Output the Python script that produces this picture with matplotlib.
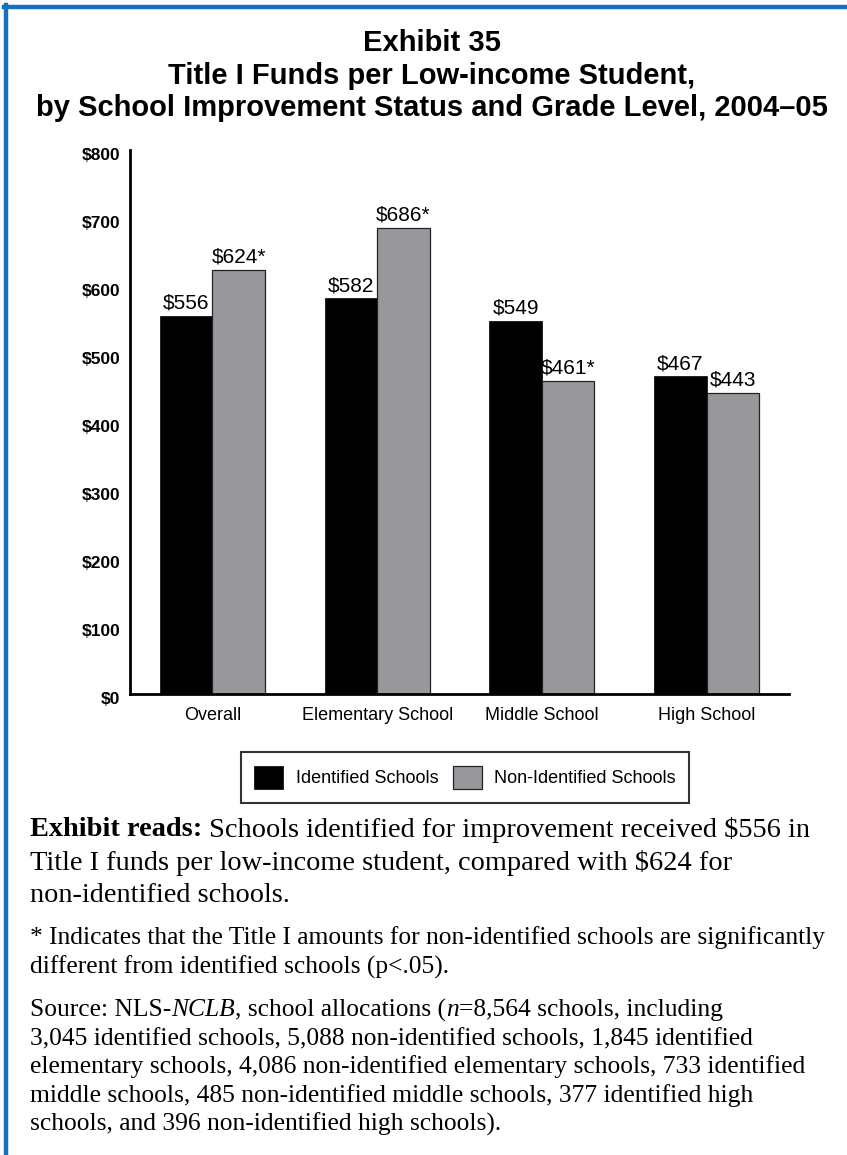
import matplotlib.pyplot as plt
import matplotlib.lines as mlines
import matplotlib.transforms as mtransforms
import numpy as np

plt.rcParams['font.family'] = 'Liberation Sans'

# data
categories = ['Overall', 'Elementary School', 'Middle School', 'High School']
identified = [556, 582, 549, 467]
non_identified = [624, 686, 461, 443]
significant = ['*', '*', '*', '']
yticks = [0, 100, 200, 300, 400, 500, 600, 700, 800]

BLUE = '#1570c0'
GREY = '#98989c'

fig = plt.figure(figsize=(8.47, 11.55), dpi=100)

# blue frame (left and top)
fig.add_artist(mlines.Line2D([5.5 / 847, 5.5 / 847], [0, 1 - 5 / 1155], color=BLUE, lw=3.2))
fig.add_artist(mlines.Line2D([4 / 847, 1], [1 - 6.5 / 1155, 1 - 6.5 / 1155], color=BLUE, lw=3.2))

# title
fig.text(0.51, 1 - 43 / 1155, 'Exhibit 35', ha='center', va='center', fontsize=21, fontweight='bold')
fig.text(0.51, 1 - 76 / 1155, 'Title I Funds per Low-income Student,', ha='center', va='center',
         fontsize=21, fontweight='bold')
fig.text(0.51, 1 - 108 / 1155, 'by School Improvement Status and Grade Level, 2004\u201305', ha='center',
         va='center', fontsize=21, fontweight='bold')

ax = fig.add_axes([130 / 847, 1 - 694 / 1155, 659 / 847, 544 / 1155])
x = np.arange(len(categories))
w = 0.318
b1 = ax.bar(x - w / 2, identified, w, color='black', edgecolor='black', linewidth=0.5,
            label='Identified Schools')
b2 = ax.bar(x + w / 2, non_identified, w, color=GREY, edgecolor='#222222', linewidth=0.9,
            label='Non-Identified Schools')

for xi, v in zip(x, identified):
    ax.annotate(f'${v}', (xi - w / 2, v), xytext=(0, 5), textcoords='offset points',
                ha='center', va='baseline', fontsize=15)
for xi, v, s in zip(x, non_identified, significant):
    ax.annotate(f'${v}{s}', (xi + w / 2, v), xytext=(0, 5), textcoords='offset points',
                ha='center', va='baseline', fontsize=15)

ax.set_xlim(-0.5, 3.5)
ax.set_ylim(0, 800)
ax.set_yticks(yticks)
ax.set_yticklabels([f'${t}' for t in yticks], fontsize=12.5, fontweight='bold')
ax.set_xticks(x)
ax.set_xticklabels(categories, fontsize=13)
ax.tick_params(axis='y', length=0, pad=7)
ax.tick_params(axis='x', length=0, pad=9)
# tick labels sit a little below their values in the original
shift = mtransforms.ScaledTranslation(0, -4 / 100, fig.dpi_scale_trans)
for lab in ax.get_yticklabels():
    lab.set_transform(lab.get_transform() + shift)
for sp in ['top', 'right']:
    ax.spines[sp].set_visible(False)
ax.spines['left'].set_linewidth(2)
ax.spines['bottom'].set_linewidth(2)

leg = fig.legend(handles=[b1, b2], loc='center', bbox_to_anchor=(465 / 847, 1 - 777.5 / 1155),
                 ncol=2, fontsize=13, frameon=True, fancybox=False, shadow=False,
                 handlelength=1.6, handleheight=1.65, handletextpad=0.7, columnspacing=0.8,
                 borderpad=0.75)
leg.get_frame().set_edgecolor('black')
leg.get_frame().set_linewidth(1.5)

# notes below the chart, drawn piece by piece so that bold / italic runs line up
renderer = fig.canvas.get_renderer()


def text_line(y_px, pieces, size):
    xpos = 30 / 847
    for txt, style, weight in pieces:
        t = fig.text(xpos, 1 - y_px / 1155, txt, ha='left', va='center', fontsize=size,
                     family='Liberation Serif', style=style, fontweight=weight)
        bb = t.get_window_extent(renderer)
        xpos += bb.width / fig.bbox.width


n = 'normal'
text_line(830, [('Exhibit reads:', n, 'bold'),
                (' Schools identified for improvement received $556 in', n, n)], 20.4)
text_line(863, [('Title I funds per low-income student, compared with $624 for', n, n)], 20.4)
text_line(896, [('non-identified schools.', n, n)], 20.4)

text_line(938, [('* Indicates that the Title I amounts for non-identified schools are significantly', n, n)], 18.4)
text_line(967, [('different from identified schools (p<.05).', n, n)], 18.4)

text_line(1010, [('Source: NLS-', n, n), ('NCLB', 'italic', n), (', school allocations (', n, n),
                 ('n', 'italic', n), ('=8,564 schools, including', n, n)], 18.4)
text_line(1039, [('3,045 identified schools, 5,088 non-identified schools, 1,845 identified', n, n)], 18.4)
text_line(1067, [('elementary schools, 4,086 non-identified elementary schools, 733 identified', n, n)], 18.4)
text_line(1096, [('middle schools, 485 non-identified middle schools, 377 identified high', n, n)], 18.4)
text_line(1124, [('schools, and 396 non-identified high schools).', n, n)], 18.4)

fig.savefig('out.png', dpi=100)
